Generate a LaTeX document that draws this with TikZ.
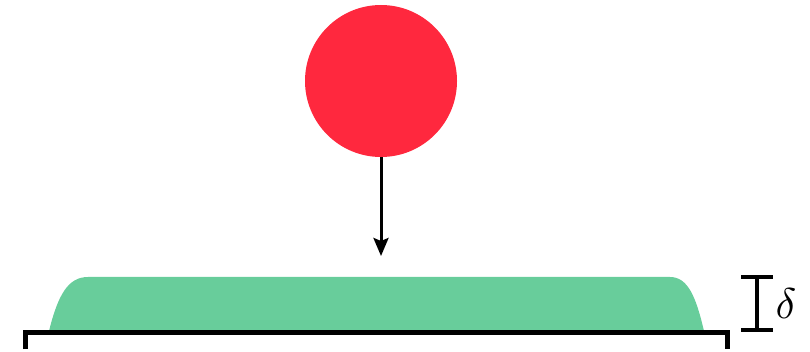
\documentclass[tikz,border=0pt]{standalone}
\usetikzlibrary{arrows.meta}
\definecolor{ballred}{RGB}{255,40,62}
\definecolor{filmgreen}{RGB}{104,205,155}
\begin{document}
\begin{tikzpicture}[x=1pt,y=-1pt,
  ball/.style={circle,fill=ballred,minimum size=152pt,inner sep=0pt},
  blackline/.style={line width=#1,black},
]
\useasboundingbox (0,0) rectangle (810,352);
% droplet
\node[ball] (drop) at (381,81) {};
\coordinate (tip) at (381,256);
\draw[blackline=3pt,-{Stealth[length=18pt,width=15pt,inset=3pt]}] (drop.south) -- (tip);
% film
\fill[filmgreen] (49,331) .. controls (58,295) and (68,277) .. (88,277)
  -- (670,277) .. controls (688,277) and (696,297) .. (704,331) -- cycle;
% substrate
\coordinate (sl) at (25,349);
\coordinate (sr) at (727,349);
\draw[blackline=5pt,line join=miter] (sl) -- (25,332) -- (727,332) -- (sr);
% thickness bracket
\coordinate (bt) at (757,277);
\coordinate (bb) at (757,330);
\draw[blackline=4pt] (bt) -- (bb);
\draw[blackline=4pt] (741,277) -- (773,277);
\draw[blackline=4pt] (741,330) -- (773,330);
\node[scale=4.3,inner sep=0pt] (delta) at (786,304) {$\delta$};
\end{tikzpicture}
\end{document}
